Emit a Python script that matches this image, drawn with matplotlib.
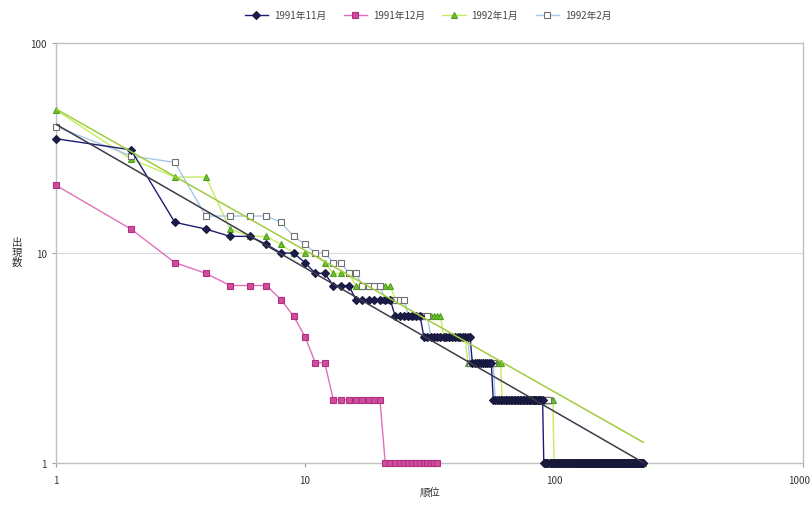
import numpy as np
import matplotlib
matplotlib.use("Agg")
import matplotlib.pyplot as plt
from matplotlib.ticker import FixedLocator, FixedFormatter, NullLocator
from matplotlib.transforms import ScaledTranslation

plt.rcParams['font.family'] = ['Noto Sans CJK JP', 'DejaVu Sans']

series_names = ["1991年11月", "1991年12月", "1992年1月", "1992年2月"]

# head: explicit values for the top ranks; tail: (count value, number of ranks with that value)
nov_head = [35, 31, 14, 13, 12, 12, 11, 10, 10, 9]
nov_tail_values = [8, 7, 6, 5, 4, 3, 2, 1]
nov_tail_counts = [2, 3, 7, 7, 17, 10, 34, 138]

dec_head = [21, 13, 9, 8, 7, 7, 7, 6, 5, 4, 3, 3]
dec_tail_values = [2, 1]
dec_tail_counts = [8, 14]

jan_head = [48, 28, 23, 23, 13, 12, 12, 11, 10, 10, 10]
jan_tail_values = [9, 8, 7, 6, 5, 4, 3, 2, 1]
jan_tail_counts = [1, 3, 7, 3, 10, 9, 17, 38, 129]

feb_head = [40, 29, 27, 15, 15, 15, 15, 14, 12, 11, 10, 10]
feb_tail_values = [9, 8, 7, 6, 5, 4, 3, 2]
feb_tail_counts = [2, 2, 4, 5, 6, 14, 12, 38]

# power trendlines: y = a * x^b
nov_trend_a, nov_trend_b = 41.0, -0.683
jan_trend_a, jan_trend_b = 48.5, -0.673

x_ticks = [1, 10, 100, 1000]
x_tick_labels = ["1", "10", "100", "1000"]
y_ticks = [1, 10, 100]
y_tick_labels = ["1", "10", "100"]


def build(head, vals, counts):
    return np.concatenate([np.array(head, float), np.repeat(vals, counts).astype(float)])


data = [
    build(nov_head, nov_tail_values, nov_tail_counts),
    build(dec_head, dec_tail_values, dec_tail_counts),
    build(jan_head, jan_tail_values, jan_tail_counts),
    build(feb_head, feb_tail_values, feb_tail_counts),
]

styles = [
    dict(color="#1c1c78", marker="D", mfc="#1c1c50", mec="#18183a", ms=4.0, z=6),
    dict(color="#e070b8", marker="s", mfc="#d04c9c", mec="#b03080", ms=3.8, z=3),
    dict(color="#c8ec60", marker="^", mfc="#70c030", mec="#50a020", ms=4.6, z=4),
    dict(color="#a8c8e8", marker="s", mfc="white", mec="#707070", ms=4.2, z=5),
]

fig = plt.figure(figsize=(8.12, 5.06), dpi=100)
ax = fig.add_axes([56 / 812, 1 - 464 / 506, (803 - 56) / 812, (464 - 44) / 506])
ax.set_xscale("log")
ax.set_yscale("log")
ax.set_xlim(1, 1000)
ax.set_ylim(1, 100)

ax.axhline(10, color="#d8d8d8", lw=0.8, zorder=0)

handles = []
for name, y, st in zip(series_names, data, styles):
    x = np.arange(1, len(y) + 1)
    h, = ax.plot(x, y, color=st["color"], lw=1.0, marker=st["marker"],
                 mfc=st["mfc"], mec=st["mec"], ms=st["ms"], mew=0.8,
                 label=name, zorder=st["z"], clip_on=False)
    handles.append(h)

trend_specs = [(0, nov_trend_a, nov_trend_b, "#3c3c48"),
               (2, jan_trend_a, jan_trend_b, "#a0cc40")]
for idx, a, b, col in trend_specs:
    xx = np.array([1, len(data[idx])], float)
    ax.plot(xx, a * xx ** b, color=col, lw=1.1, zorder=7)

for s in ax.spines.values():
    s.set_color("#c0c0c0")
    s.set_linewidth(1.0)

ax.xaxis.set_major_locator(FixedLocator(x_ticks))
ax.xaxis.set_major_formatter(FixedFormatter(x_tick_labels))
ax.yaxis.set_major_locator(FixedLocator(y_ticks))
ax.yaxis.set_major_formatter(FixedFormatter(y_tick_labels))
ax.xaxis.set_minor_locator(NullLocator())
ax.yaxis.set_minor_locator(NullLocator())
ax.tick_params(axis="both", labelsize=7, length=3, color="#a0a0a0", labelcolor="#333333")
ax.tick_params(axis="x", pad=6)

fig.canvas.draw()
last = ax.get_xticklabels()[-1]
last.set_horizontalalignment("right")
last.set_transform(last.get_transform() + ScaledTranslation(7 / 100, 0, fig.dpi_scale_trans))

fig.text(430 / 812, 1 - 493 / 506, "順位", ha="center", va="center", fontsize=7.5, color="#333333")
fig.text(17 / 812, 1 - 253 / 506, "出\n現\n数", ha="center", va="center", fontsize=7.5,
         color="#333333", linespacing=1.0, rotation=0)

fig.legend(handles=handles, loc="center", bbox_to_anchor=(428 / 812, 1 - 16 / 506),
           ncol=4, frameon=False, fontsize=7, handlelength=2.4, columnspacing=1.8,
           handletextpad=0.6, labelcolor="#444444")

fig.savefig("out.png", dpi=100, facecolor="white")
